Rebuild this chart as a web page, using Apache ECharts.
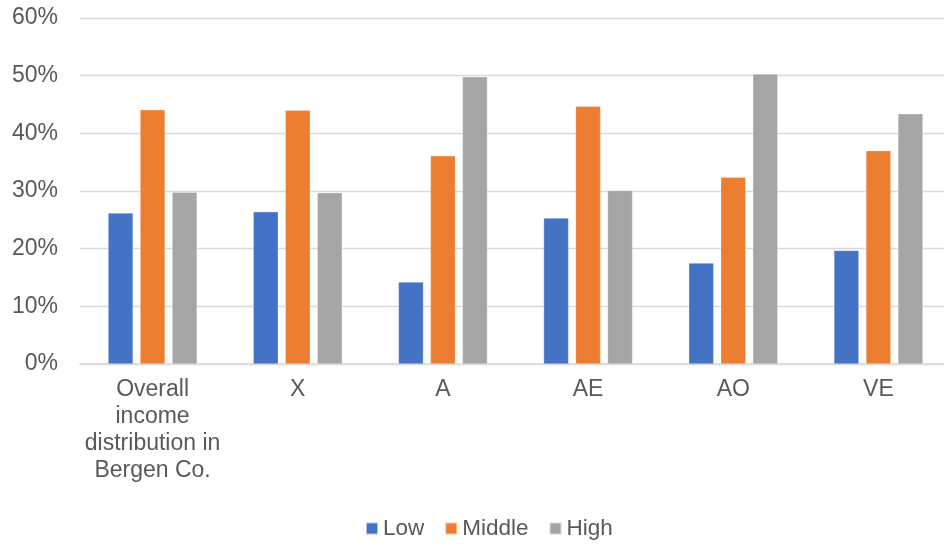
<!DOCTYPE html>
<html>
<head>
<meta charset="utf-8">
<script src="https://cdn.jsdelivr.net/npm/echarts@6/dist/echarts.min.js"></script>
<style>
html,body{margin:0;padding:0;background:#fff;overflow:hidden;width:944px;height:546px;}
#chart{width:951px;height:546px;}
</style>
</head>
<body>
<div id="chart"></div>
<script>
var categories = ['Overall\nincome\ndistribution in\nBergen Co.', 'X', 'A', 'AE', 'AO', 'VE'];
var lowValues = [26.2, 26.4, 14.2, 25.3, 17.5, 19.7];
var middleValues = [44.1, 44.0, 36.1, 44.7, 32.4, 37.0];
var highValues = [29.8, 29.7, 49.8, 30.1, 50.3, 43.4];
var yTicks = [0, 10, 20, 30, 40, 50, 60];

var chart = echarts.init(document.getElementById('chart'));
var font = '"Liberation Sans", Arial, sans-serif';
function barSeries(name, data, color) {
  return {
    name: name, type: 'bar', data: data,
    barWidth: 25, barGap: '28%',
    itemStyle: { color: color, borderColor: 'rgba(255,255,255,0.6)', borderWidth: 0.5 }
  };
}
chart.setOption({
  animation: false,
  textStyle: { fontFamily: font },
  grid: { left: 80, top: 18, width: 871, height: 346, containLabel: false },
  legend: {
    top: 517, left: 365, padding: 0,
    itemWidth: 12, itemHeight: 12, itemGap: 20, icon: 'rect',
    textStyle: { color: '#595959', fontSize: 22.5, fontFamily: font },
    data: ['Low', 'Middle', 'High']
  },
  xAxis: {
    type: 'category', data: categories,
    axisLine: { show: true, lineStyle: { color: '#D9D9D9', width: 1.5 } },
    axisTick: { show: false },
    axisLabel: { color: '#595959', fontSize: 23, lineHeight: 27, margin: 12, interval: 0, fontFamily: font }
  },
  yAxis: {
    type: 'value', min: yTicks[0], max: yTicks[yTicks.length - 1], interval: 10,
    axisLine: { show: false }, axisTick: { show: false },
    splitLine: { lineStyle: { color: '#D9D9D9', width: 1.3 } },
    axisLabel: { color: '#595959', fontSize: 23, margin: 22, formatter: '{value}%', fontFamily: font }
  },
  series: [
    barSeries('Low', lowValues, '#4472C4'),
    barSeries('Middle', middleValues, '#ED7D31'),
    barSeries('High', highValues, '#A5A5A5')
  ]
});
</script>
</body>
</html>
